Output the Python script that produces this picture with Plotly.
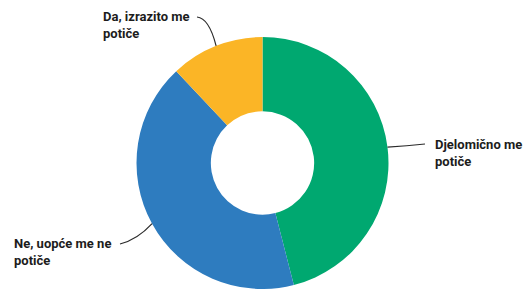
import math
import plotly.graph_objects as go

labels = ["Djelomično me potiče", "Ne, uopće me ne potiče", "Da, izrazito me potiče"]
display_labels = ["Djelomično me<br>potiče", "Ne, uopće me ne<br>potiče", "Da, izrazito me<br>potiče"]
values = [46, 42, 12]
colors = ["#00A870", "#2E7CBF", "#FBB526"]

W, H = 525, 289
MT, MB, ML, MR = 37, 0, 0, 0
plot_w = W - ML - MR
plot_h = H - MT - MB
R = min(plot_w, plot_h) / 2
cx = ML + plot_w / 2
cy = MT + plot_h / 2


def px_to_paper(px, py):
    return (px - ML) / plot_w, (H - MB - py) / plot_h


# mid-angle anchor points on the outer edge (clockwise from 12 o'clock)
total = sum(values)
anchors = []
acc = 0
for v in values:
    mid = (acc + v / 2) / total * 2 * math.pi
    anchors.append((cx + R * math.sin(mid), cy - R * math.cos(mid)))
    acc += v

# label text positions (left edge, first-line centre) in pixels
label_pos = [(433, 153), (12, 252), (101, 25)]
# leader line start near the label, and a curve control point
leader_start = [(425, 144), (120, 244), (197, 17)]
leader_ctrl = [(407, 146), (137, 240), (209, 18)]

fig = go.Figure(
    go.Pie(
        labels=labels,
        values=values,
        hole=0.41,
        sort=False,
        direction="clockwise",
        rotation=0,
        marker=dict(colors=colors, line=dict(width=0)),
        textinfo="none",
        hoverinfo="label+percent",
        showlegend=False,
    )
)

shapes = []
annotations = []
for i in range(len(values)):
    sx, sy = px_to_paper(*leader_start[i])
    qx, qy = px_to_paper(*leader_ctrl[i])
    ex, ey = px_to_paper(*anchors[i])
    shapes.append(
        dict(
            type="path",
            xref="paper",
            yref="paper",
            path=f"M {sx},{sy} Q {qx},{qy} {ex},{ey}",
            line=dict(color="#2b2b2b", width=1.2),
        )
    )
    tx, ty = px_to_paper(*label_pos[i])
    annotations.append(
        dict(
            x=tx,
            y=ty,
            xref="paper",
            yref="paper",
            text=f"<b>{display_labels[i]}</b>",
            showarrow=False,
            xanchor="left",
            yanchor="middle",
            align="left",
            font=dict(family="Roboto", size=13, color="#1c1c1c"),
        )
    )

fig.update_layout(
    width=W,
    height=H,
    margin=dict(l=ML, r=MR, t=MT, b=MB),
    paper_bgcolor="white",
    plot_bgcolor="white",
    shapes=shapes,
    annotations=annotations,
)

fig.write_html(
    "out.html",
    config={"displayModeBar": False},
    post_script="document.body.style.margin='0';document.body.style.overflow='hidden';",
)
